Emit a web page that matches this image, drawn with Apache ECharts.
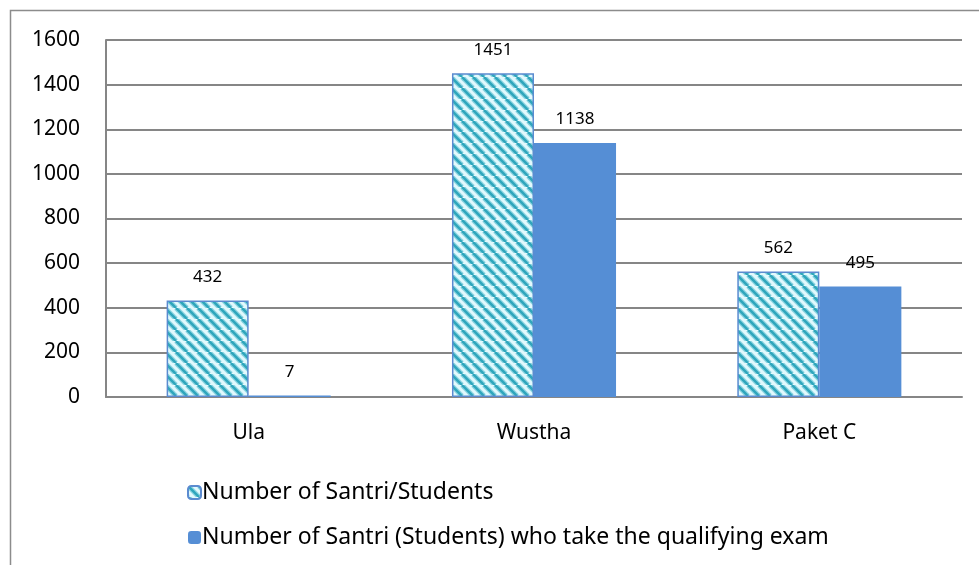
<!DOCTYPE html>
<html><head><meta charset="utf-8">
<script src="https://cdn.jsdelivr.net/npm/echarts@6/dist/echarts.min.js"></script>
<style>html,body{margin:0;padding:0;background:#fff}#c{width:979px;height:565px}</style>
</head><body><div id="c"></div>
<script>
const categories = ['Ula', 'Wustha', 'Paket C'];
const students = [432, 1451, 562];
const examTakers = [7, 1138, 495];
const seriesNames = ['Number of Santri/Students', 'Number of Santri (Students) who take the qualifying exam'];

function makePattern() {
  const s = 11;
  const c = document.createElement('canvas');
  c.width = s; c.height = s;
  const g = c.getContext('2d');
  g.fillStyle = '#e2f9fd';
  g.fillRect(0, 0, s, s);
  const strokes = [['#8fd6e2', 5], ['#2fa6bc', 2.6]];
  strokes.forEach(([col, w]) => {
    g.strokeStyle = col;
    g.lineWidth = w;
    for (let o = -s; o <= s; o += s) {
      g.beginPath();
      g.moveTo(o, 0);
      g.lineTo(o + s, s);
      g.stroke();
    }
  });
  return c;
}

const chart = echarts.init(document.getElementById('c'), null, {renderer: 'canvas'});
const font = 'Noto Sans';
chart.setOption({
  animation: false,
  graphic: [{
    type: 'rect', shape: {x: 10.5, y: 10.5, width: 1000, height: 600},
    style: {fill: 'none', stroke: '#8c8c8c', lineWidth: 1.5}, silent: true, z: -1
  }],
  grid: {left: 106, right: 17, top: 40, bottom: 168},
  xAxis: {
    type: 'category', data: categories,
    axisLine: {lineStyle: {color: '#868686', width: 2}},
    axisTick: {show: false},
    axisLabel: {color: '#000', fontFamily: font, fontSize: 21, margin: 26}
  },
  yAxis: {
    type: 'value', min: 0, max: 1600, interval: 200,
    axisLine: {show: true, lineStyle: {color: '#868686', width: 2}},
    axisTick: {show: false},
    splitLine: {lineStyle: {color: '#868686', width: 2}},
    axisLabel: {color: '#000', fontFamily: font, fontSize: 21, margin: 26, formatter: v => String(v)}
  },
  legend: {
    orient: 'vertical', left: 182, top: 476, itemGap: 22,
    itemWidth: 13, itemHeight: 13,
    textStyle: {color: '#000', fontFamily: font, fontSize: 23, padding: [0, 0, 0, -4]},
    data: seriesNames
  },
  series: [{
    name: seriesNames[0], type: 'bar', data: students,
    barGap: '0%', barCategoryGap: '42.5%',
    itemStyle: {color: {image: makePattern(), repeat: 'repeat'}, borderColor: '#5b8bd0', borderWidth: 1.5},
    label: {show: true, position: 'top', distance: 15, color: '#000', fontFamily: font, fontSize: 17}
  }, {
    name: seriesNames[1], type: 'bar', data: examTakers,
    barGap: '0%', barCategoryGap: '42.5%',
    itemStyle: {color: '#558ed5'},
    label: {show: true, position: 'top', distance: 15, color: '#000', fontFamily: font, fontSize: 17}
  }]
});
</script></body></html>
